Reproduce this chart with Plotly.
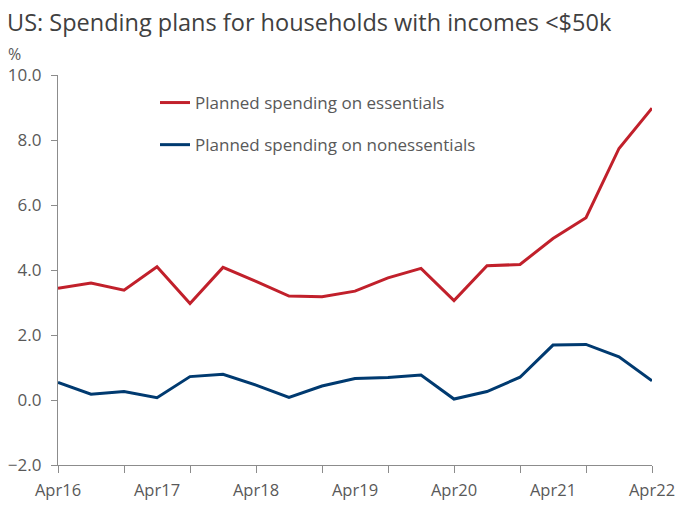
import plotly.graph_objects as go

# Survey periods (every four months) and planned spending growth, %
periods = ["Apr16", "Aug16", "Dec16", "Apr17", "Aug17", "Dec17", "Apr18", "Aug18",
           "Dec18", "Apr19", "Aug19", "Dec19", "Apr20", "Aug20", "Dec20", "Apr21",
           "Aug21", "Dec21", "Apr22"]
essentials = [3.44, 3.60, 3.38, 4.10, 2.97, 4.08, 3.65, 3.20, 3.18, 3.35, 3.76,
              4.05, 3.06, 4.13, 4.17, 4.97, 5.61, 7.74, 8.98]
nonessentials = [0.54, 0.18, 0.26, 0.07, 0.72, 0.79, 0.46, 0.08, 0.43, 0.66, 0.69,
                 0.77, 0.03, 0.26, 0.70, 1.69, 1.71, 1.33, 0.59]

label_ticks = ["Apr16", "Apr17", "Apr18", "Apr19", "Apr20", "Apr21", "Apr22"]
minor_ticks = periods[::2]
y_ticks = [-2, 0, 2, 4, 6, 8, 10]

FONT = "Open Sans"
AXIS_COLOR = "#8c8c8c"
TEXT_COLOR = "#595959"

# plot area in pixels
L, R, T, B = 58, 652, 75, 465
PW, PH = R - L, B - T

fig = go.Figure()
fig.add_trace(go.Scatter(x=periods, y=essentials, mode="lines",
                         name="Planned spending on essentials", legendgroup="a",
                         line=dict(color="#c1202b", width=3)))
fig.add_trace(go.Scatter(x=periods, y=nonessentials, mode="lines",
                         name="Planned spending on nonessentials", legendgroup="b",
                         line=dict(color="#003a70", width=3)))

fig.update_layout(
    width=677, height=505,
    margin=dict(l=L, r=677 - R, t=T, b=505 - B, autoexpand=False),
    paper_bgcolor="white", plot_bgcolor="white",
    font=dict(family=FONT, color=TEXT_COLOR, size=16),
    showlegend=True,
    legend=dict(x=(155 - L) / PW, y=1 - (85 - T) / PH, xanchor="left", yanchor="top",
                bgcolor="rgba(0,0,0,0)", font=dict(size=17, color=TEXT_COLOR),
                tracegroupgap=17, itemwidth=30),
    annotations=[
        dict(text="US: Spending plans for households with incomes &lt;$50k",
             xref="paper", yref="paper", x=(5 - L) / PW, y=1 + (T - 22) / PH,
             xanchor="left", yanchor="middle", showarrow=False,
             font=dict(size=23.5, color="#404040", family=FONT)),
        dict(text="%", xref="paper", yref="paper", x=(6 - L) / PW, y=1 + (T - 54) / PH,
             xanchor="left", yanchor="middle", showarrow=False,
             font=dict(size=16, color=TEXT_COLOR, family=FONT)),
    ],
)

fig.update_xaxes(
    type="category", categoryorder="array", categoryarray=periods,
    range=[0, len(periods) - 1], automargin=False,
    tickvals=label_ticks, ticktext=label_ticks,
    ticks="", ticklabelstandoff=10,
    showline=True, linecolor=AXIS_COLOR, linewidth=1.3,
    showgrid=False, zeroline=False,
    tickfont=dict(size=16.5, color=TEXT_COLOR),
    minor=dict(tickvals=minor_ticks, ticks="outside", ticklen=7,
               tickcolor=AXIS_COLOR, tickwidth=1.3, showgrid=False),
)
fig.update_yaxes(
    range=[-2, 10], tickvals=y_ticks, tickformat=".1f", automargin=False,
    ticks="outside", ticklen=6, tickcolor=AXIS_COLOR, tickwidth=1.3,
    ticklabelstandoff=6,
    showline=True, linecolor=AXIS_COLOR, linewidth=1.3,
    showgrid=False, zeroline=False,
    tickfont=dict(size=17, color=TEXT_COLOR),
)

fig.write_html("out.html")
